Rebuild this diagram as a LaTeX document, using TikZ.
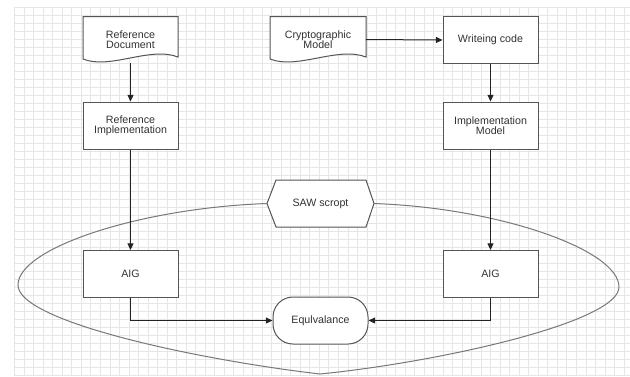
\documentclass[tikz,border=0pt]{standalone}
\usepackage{fontspec}
\setmainfont{Liberation Sans}
\usetikzlibrary{arrows.meta}
\definecolor{gridc}{RGB}{230,230,230}
\definecolor{boxc}{RGB}{85,85,85}
\definecolor{arrc}{RGB}{35,35,35}
\definecolor{ellc}{RGB}{120,120,120}
\definecolor{txtc}{RGB}{50,50,50}
\begin{document}
\begin{tikzpicture}[x=0.75pt,y=-0.75pt,
  every node/.style={font=\fontsize{8}{7.8}\selectfont, text=txtc, align=center, inner sep=0pt},
  procbox/.style={draw=boxc, line width=0.75pt, fill=white, minimum width=71.25pt, minimum height=35.25pt},
  docbox/.style={minimum width=71.25pt, minimum height=34.5pt},
  docline/.style={draw=boxc, line width=0.75pt, fill=white},
  hexbox/.style={minimum width=80pt, minimum height=35.25pt},
  termbox/.style={draw=boxc, line width=0.75pt, fill=white, minimum width=71.25pt, minimum height=35.25pt, rounded corners=15pt},
  flow/.style={draw=arrc, line width=0.75pt, -{Triangle[length=5pt,width=4.5pt]}},
  loop/.style={draw=ellc, line width=0.75pt}
]
\fill[white] (0,0) rectangle (630,376);
\useasboundingbox (0,0) rectangle (630,376);
% grid
\foreach \k in {0,...,64} {
  \pgfmathsetmacro{\gx}{14.8+\k*9.52}
  \draw[gridc, line width=0.75pt] (\gx,7.3) -- (\gx,376);
}
\foreach \k in {0,...,46} {
  \pgfmathsetmacro{\gy}{7.3+\k*8.0}
  \draw[gridc, line width=0.75pt] (14.8,\gy) -- (630,\gy);
}

% document shapes
\path[docline] (83,16.5) -- (178,16.5) -- (178,57) .. controls (150,46) and (110,70) .. (83,59) -- cycle;
\node[docbox] (refdoc) at (130.5,39.5) {Reference\\Document};
\path[docline] (270,16.5) -- (366,16.5) -- (366,57) .. controls (338,46) and (297,70) .. (270,59) -- cycle;
\node[docbox] (crypto) at (318,39.5) {Cryptographic\\Model};

% process boxes
\node[procbox] (code) at (490.5,40) {Writeing code};
\node[procbox] (refimpl) at (130.5,125.5) {Reference\\Implementation};
\node[procbox] (implmodel) at (490.5,125.5) {Implementation\\Model};
\node[procbox] (aigL) at (130.5,274) {AIG};
\node[procbox] (aigR) at (490.5,274) {AIG};

% SAW script hexagon
\path[docline] (267,203.5) -- (276,180) -- (366,180) -- (374,203.5) -- (366,227) -- (276,227) -- cycle;
\node[hexbox] (saw) at (320.5,203.5) {SAW scropt};

% equivalence
\node[termbox] (eq) at (320.5,320.5) {Equlvalance};

% enclosing loop
\draw[loop] (saw.west) .. controls (140,208) and (18,248) .. (18,285)
  .. controls (18,322) and (200,360) .. (320,374);
\draw[loop] (saw.east) .. controls (500,208) and (619,250) .. (619,287)
  .. controls (619,322) and (440,362) .. (320,374);

% connectors
\draw[flow] (refdoc.south) -- (refimpl.north);
\draw[flow] (crypto.east) -- (code.west);
\draw[flow] (code.south) -- (implmodel.north);
\draw[flow] (refimpl.south) -- (aigL.north);
\draw[flow] (implmodel.south) -- (aigR.north);
\draw[flow] (aigL.south) |- (eq.west);
\draw[flow] (aigR.south) |- (eq.east);
\end{tikzpicture}
\end{document}
